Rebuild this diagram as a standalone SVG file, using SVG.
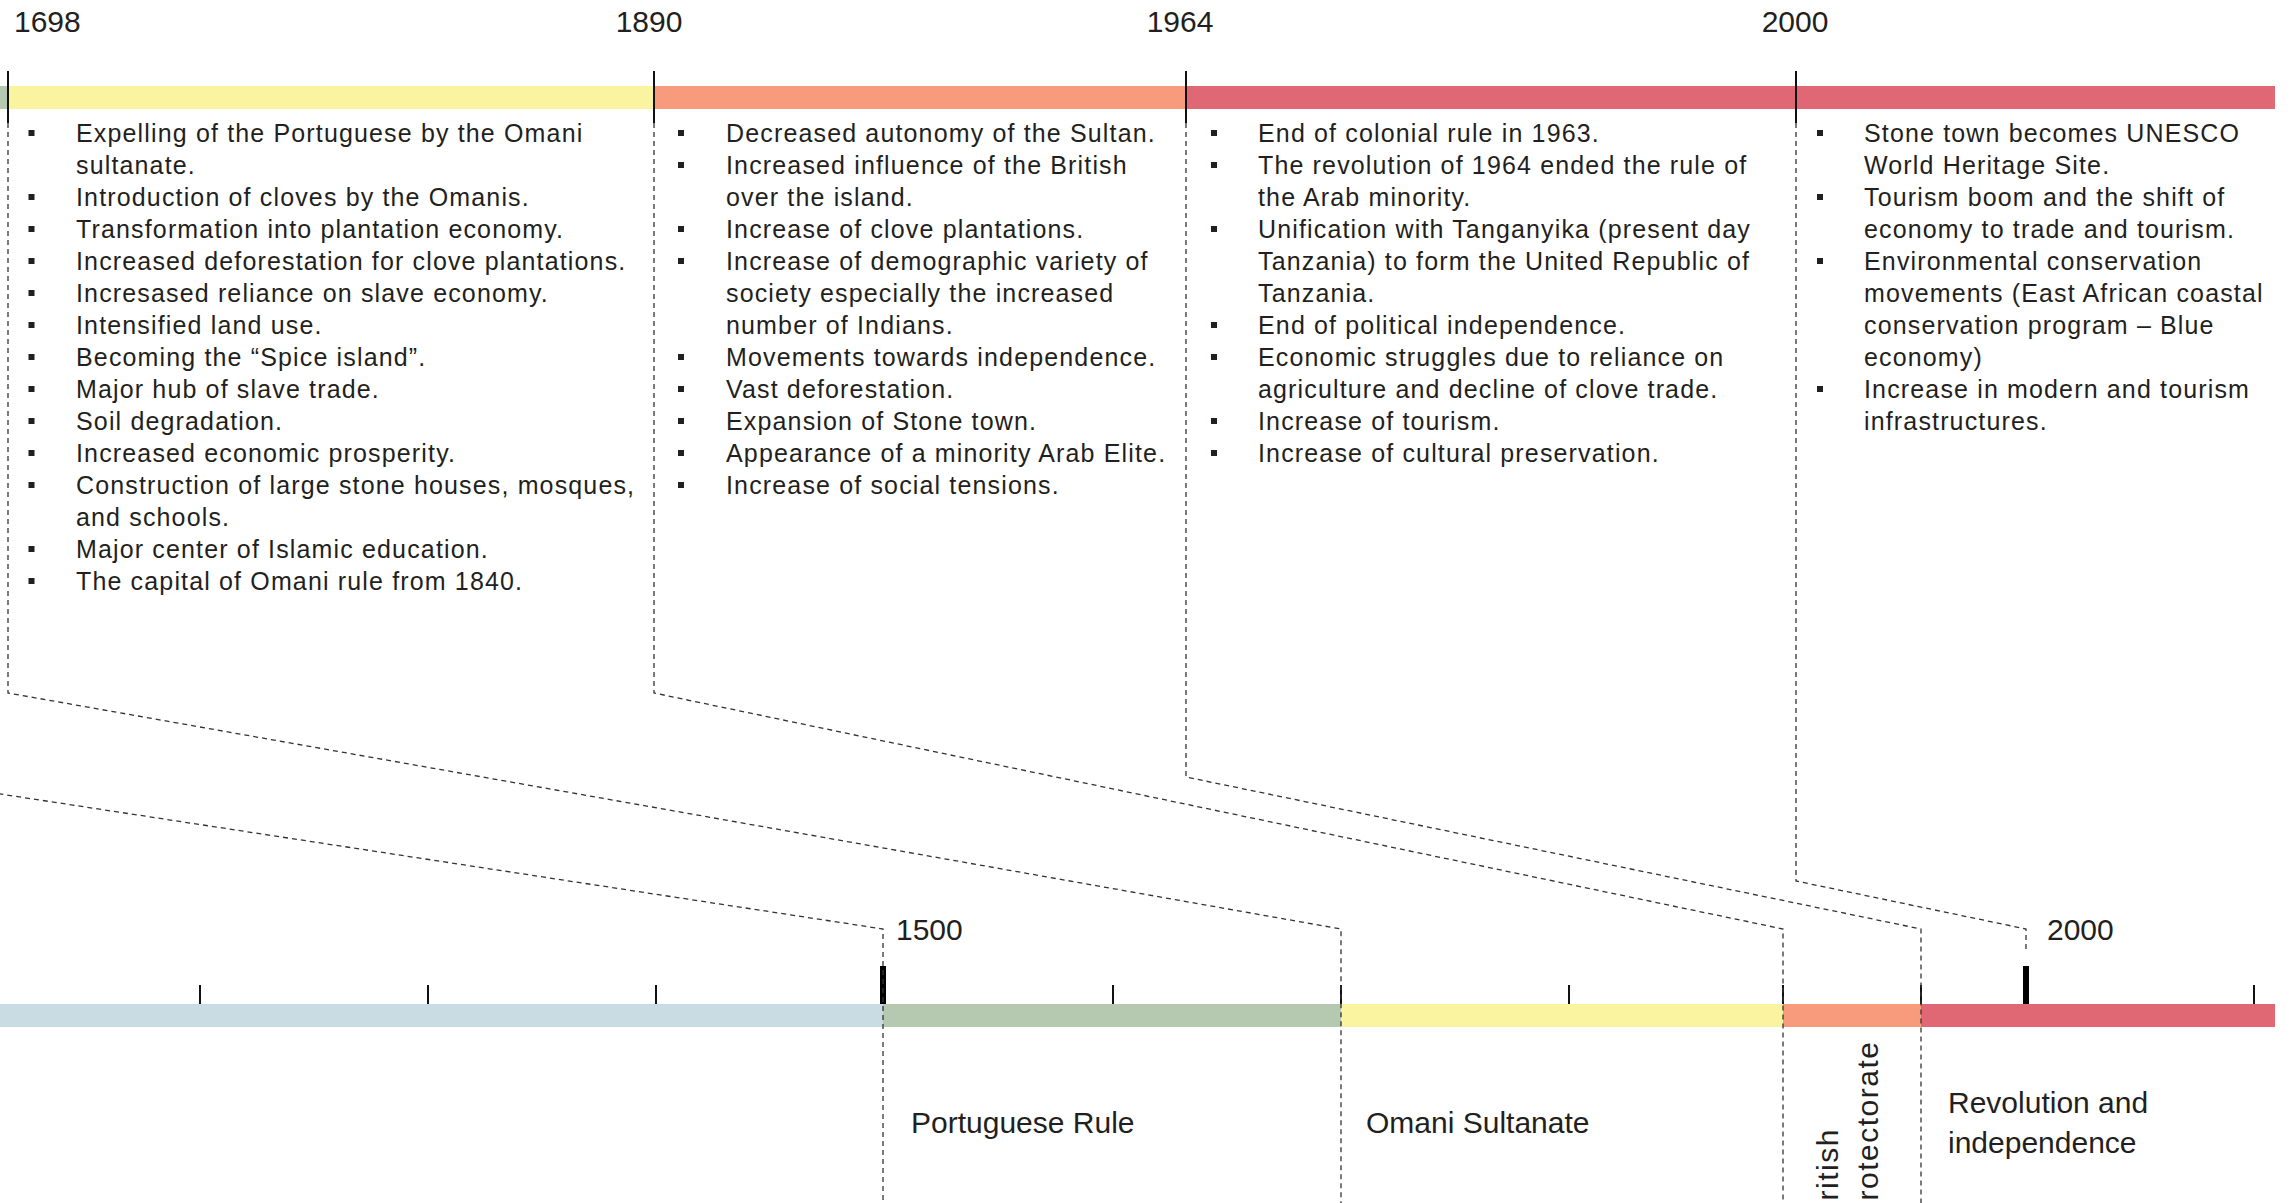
<svg xmlns="http://www.w3.org/2000/svg" width="2293" height="1203" viewBox="0 0 2293 1203">
<style>
  text { font-family: "Liberation Sans", Arial, sans-serif; fill: #231f20; }
  .yr { font-size: 30px; }
  .lbl { font-size: 30px; }
  .rot { font-size: 30px; letter-spacing: 1.5px; }
  .b { font-size: 25px; letter-spacing: 1.15px; }
  .dash { fill: none; stroke: #333; stroke-width: 1.3; stroke-dasharray: 5 4; }
  .tick { stroke: #111; stroke-width: 2; }
  .thick { stroke: #000; stroke-width: 6; }
  .blue { fill: #c9dbe3; } .green { fill: #b5c8b0; } .yellow { fill: #faf4a0; }
  .salmon { fill: #f89b7c; } .red { fill: #e06774; }
</style>
<defs>
  <rect id="bul" x="-3" y="-3" width="6" height="6" fill="#231f20"/>
</defs>
<rect width="2293" height="1203" fill="#ffffff"/>

<!-- top timeline -->
<g id="top-axis">
  <rect class="green" x="0" y="86" width="8" height="23"/>
  <rect class="yellow" x="8" y="86" width="646" height="23"/>
  <rect class="salmon" x="654" y="86" width="532" height="23"/>
  <rect class="red" x="1186" y="86" width="1089" height="23"/>
  <line class="tick" x1="8" y1="71" x2="8" y2="123"/>
  <line class="tick" x1="654" y1="71" x2="654" y2="123"/>
  <line class="tick" x1="1186" y1="71" x2="1186" y2="123"/>
  <line class="tick" x1="1796" y1="71" x2="1796" y2="123"/>
  <text class="yr" x="14" y="31.5">1698</text>
  <text class="yr" x="649" y="31.5" text-anchor="middle">1890</text>
  <text class="yr" x="1180" y="31.5" text-anchor="middle">1964</text>
  <text class="yr" x="1795" y="31.5" text-anchor="middle">2000</text>
</g>

<!-- column 1698-1890 -->
<g id="col-1698">
  <use href="#bul" x="31.5" y="133"/><use href="#bul" x="31.5" y="197"/><use href="#bul" x="31.5" y="229"/>
  <use href="#bul" x="31.5" y="261"/><use href="#bul" x="31.5" y="293"/><use href="#bul" x="31.5" y="325"/>
  <use href="#bul" x="31.5" y="357"/><use href="#bul" x="31.5" y="389"/><use href="#bul" x="31.5" y="421"/>
  <use href="#bul" x="31.5" y="453"/><use href="#bul" x="31.5" y="485"/><use href="#bul" x="31.5" y="549"/>
  <use href="#bul" x="31.5" y="581"/>
  <text class="b">
    <tspan x="76" y="142">Expelling of the Portuguese by the Omani</tspan>
    <tspan x="76" y="174">sultanate.</tspan>
    <tspan x="76" y="206">Introduction of cloves by the Omanis.</tspan>
    <tspan x="76" y="238">Transformation into plantation economy.</tspan>
    <tspan x="76" y="270">Increased deforestation for clove plantations.</tspan>
    <tspan x="76" y="302">Incresased reliance on slave economy.</tspan>
    <tspan x="76" y="334">Intensified land use.</tspan>
    <tspan x="76" y="366">Becoming the “Spice island”.</tspan>
    <tspan x="76" y="398">Major hub of slave trade.</tspan>
    <tspan x="76" y="430">Soil degradation.</tspan>
    <tspan x="76" y="462">Increased economic prosperity.</tspan>
    <tspan x="76" y="494">Construction of large stone houses, mosques,</tspan>
    <tspan x="76" y="526">and schools.</tspan>
    <tspan x="76" y="558">Major center of Islamic education.</tspan>
    <tspan x="76" y="590">The capital of Omani rule from 1840.</tspan>
  </text>
</g>

<!-- column 1890-1964 -->
<g id="col-1890">
  <use href="#bul" x="681" y="133"/><use href="#bul" x="681" y="165"/><use href="#bul" x="681" y="229"/>
  <use href="#bul" x="681" y="261"/><use href="#bul" x="681" y="357"/><use href="#bul" x="681" y="389"/>
  <use href="#bul" x="681" y="421"/><use href="#bul" x="681" y="453"/><use href="#bul" x="681" y="485"/>
  <text class="b">
    <tspan x="726" y="142">Decreased autonomy of the Sultan.</tspan>
    <tspan x="726" y="174">Increased influence of the British</tspan>
    <tspan x="726" y="206">over the island.</tspan>
    <tspan x="726" y="238">Increase of clove plantations.</tspan>
    <tspan x="726" y="270">Increase of demographic variety of</tspan>
    <tspan x="726" y="302">society especially the increased</tspan>
    <tspan x="726" y="334">number of Indians.</tspan>
    <tspan x="726" y="366">Movements towards independence.</tspan>
    <tspan x="726" y="398">Vast deforestation.</tspan>
    <tspan x="726" y="430">Expansion of Stone town.</tspan>
    <tspan x="726" y="462">Appearance of a minority Arab Elite.</tspan>
    <tspan x="726" y="494">Increase of social tensions.</tspan>
  </text>
</g>

<!-- column 1964-2000 -->
<g id="col-1964">
  <use href="#bul" x="1214" y="133"/><use href="#bul" x="1214" y="165"/><use href="#bul" x="1214" y="229"/>
  <use href="#bul" x="1214" y="325"/><use href="#bul" x="1214" y="357"/><use href="#bul" x="1214" y="421"/>
  <use href="#bul" x="1214" y="453"/>
  <text class="b">
    <tspan x="1258" y="142">End of colonial rule in 1963.</tspan>
    <tspan x="1258" y="174">The revolution of 1964 ended the rule of</tspan>
    <tspan x="1258" y="206">the Arab minority.</tspan>
    <tspan x="1258" y="238">Unification with Tanganyika (present day</tspan>
    <tspan x="1258" y="270">Tanzania) to form the United Republic of</tspan>
    <tspan x="1258" y="302">Tanzania.</tspan>
    <tspan x="1258" y="334">End of political independence.</tspan>
    <tspan x="1258" y="366">Economic struggles due to reliance on</tspan>
    <tspan x="1258" y="398">agriculture and decline of clove trade.</tspan>
    <tspan x="1258" y="430">Increase of tourism.</tspan>
    <tspan x="1258" y="462">Increase of cultural preservation.</tspan>
  </text>
</g>

<!-- column 2000- -->
<g id="col-2000">
  <use href="#bul" x="1820" y="133"/><use href="#bul" x="1820" y="197"/><use href="#bul" x="1820" y="261"/>
  <use href="#bul" x="1820" y="389"/>
  <text class="b">
    <tspan x="1864" y="142">Stone town becomes UNESCO</tspan>
    <tspan x="1864" y="174">World Heritage Site.</tspan>
    <tspan x="1864" y="206">Tourism boom and the shift of</tspan>
    <tspan x="1864" y="238">economy to trade and tourism.</tspan>
    <tspan x="1864" y="270">Environmental conservation</tspan>
    <tspan x="1864" y="302">movements (East African coastal</tspan>
    <tspan x="1864" y="334">conservation program – Blue</tspan>
    <tspan x="1864" y="366">economy)</tspan>
    <tspan x="1864" y="398">Increase in modern and tourism</tspan>
    <tspan x="1864" y="430">infrastructures.</tspan>
  </text>
</g>

<!-- bottom timeline -->
<g id="bottom-axis">
  <rect class="blue" x="0" y="1004" width="883" height="23"/>
  <rect class="green" x="883" y="1004" width="458" height="23"/>
  <rect class="yellow" x="1341" y="1004" width="442" height="23"/>
  <rect class="salmon" x="1783" y="1004" width="138" height="23"/>
  <rect class="red" x="1921" y="1004" width="354" height="23"/>
  <line class="tick" x1="200" y1="985" x2="200" y2="1004"/>
  <line class="tick" x1="428" y1="985" x2="428" y2="1004"/>
  <line class="tick" x1="656" y1="985" x2="656" y2="1004"/>
  <line class="tick" x1="1113" y1="985" x2="1113" y2="1004"/>
  <line class="tick" x1="1341" y1="985" x2="1341" y2="1004"/>
  <line class="tick" x1="1569" y1="985" x2="1569" y2="1004"/>
  <line class="tick" x1="1783" y1="985" x2="1783" y2="1004"/>
  <line class="tick" x1="1921" y1="985" x2="1921" y2="1004"/>
  <line class="tick" x1="2254" y1="985" x2="2254" y2="1004"/>
  <line class="thick" x1="883" y1="966" x2="883" y2="1004"/>
  <line class="thick" x1="2026" y1="966" x2="2026" y2="1004"/>
  <text class="yr" x="896" y="940">1500</text>
  <text class="yr" x="2047" y="940">2000</text>
</g>

<g id="period-portuguese"><text class="lbl" x="911" y="1133">Portuguese Rule</text></g>
<g id="period-omani"><text class="lbl" x="1366" y="1133">Omani Sultanate</text></g>
<g id="period-british"><text class="rot" transform="translate(1838,1222) rotate(-90)"><tspan x="0" y="0">British</tspan><tspan x="0" y="40">Protectorate</tspan></text></g>
<g id="period-revolution"><text class="lbl"><tspan x="1948" y="1113">Revolution and</tspan><tspan x="1948" y="1153">independence</tspan></text></g>

<!-- connectors -->
<g id="connectors">
  <polyline class="dash" points="8,123 8,693 1341,929 1341,1203"/>
  <polyline class="dash" points="654,123 654,693 1783,929 1783,1203"/>
  <polyline class="dash" points="1186,123 1186,777 1921,929 1921,1203"/>
  <polyline class="dash" points="1796,123 1796,881 2026,929 2026,951"/>
  <polyline class="dash" points="-660,693 883,929 883,1203"/>
</g>
</svg>
